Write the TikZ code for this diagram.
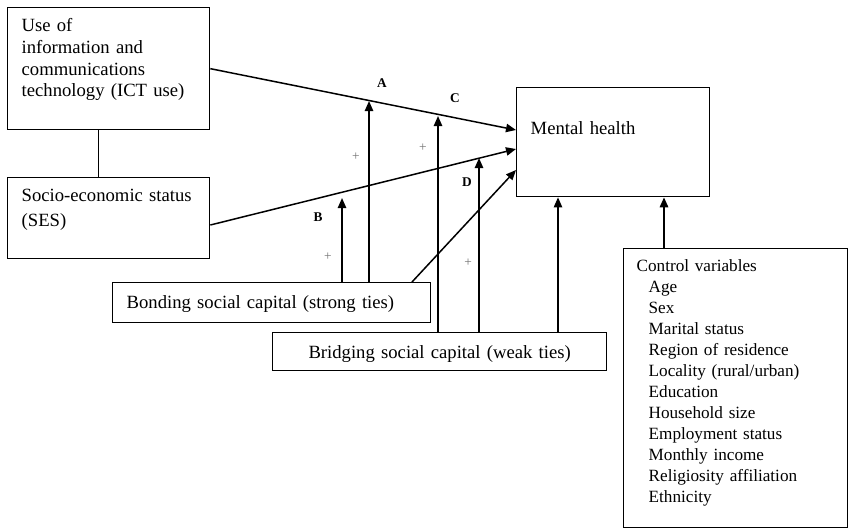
\documentclass[tikz,border=0pt]{standalone}
\usepackage{fontspec}
\setmainfont{Liberation Serif}
\usetikzlibrary{arrows.meta, positioning}

\begin{document}
\begin{tikzpicture}[x=0.6pt, y=-0.6pt, >={Triangle[length=6pt,width=5pt]},
    box/.style={draw, line width=0.8pt, anchor=north west, align=left, inner ysep=0pt, inner xsep=8.4pt, font=\fontsize{11.2}{13}\selectfont},
    link/.style={line width=0.9pt},
    tag/.style={font=\fontsize{8}{8}\selectfont\bfseries},
    plus/.style={text=black!55, font=\fontsize{8}{8}\selectfont}]
        \useasboundingbox (0,0) rectangle (848,529);

        \node[box, text width=104.4pt, text height=14.4pt, text depth=58.8pt] (ict) at (7,7)
        {Use of\\information and\\communications\\technology (ICT use)};
        \node[box, text width=104.4pt, text height=14.4pt, text depth=34.2pt] (ses) at (7,177)
        {Socio-economic status\\[2pt](SES)};
        \node[box, text width=99pt, text height=28.2pt, text depth=37.2pt] (mh) at (516,87) {Mental health};

        \node[box, text width=174pt, text height=15.6pt, text depth=8.4pt] (bond) at (112,282)
        {Bonding social capital (strong ties)};
        \node[box, align=center, text width=183.6pt, text height=15.6pt, text depth=7.2pt] (bridge) at (272,332)
        {Bridging social capital (weak ties)};

        \node[box, inner xsep=7.8pt, text width=118.8pt, text height=13.8pt, text depth=153.6pt,
              font=\fontsize{10.3}{12.6}\selectfont] (ctrl) at (623,248)
        {Control variables\\
         \hspace*{7.2pt}Age\\
         \hspace*{7.2pt}Sex\\
         \hspace*{7.2pt}Marital status\\
         \hspace*{7.2pt}Region of residence\\
         \hspace*{7.2pt}Locality (rural/urban)\\
         \hspace*{7.2pt}Education\\
         \hspace*{7.2pt}Household size\\
         \hspace*{7.2pt}Employment status\\
         \hspace*{7.2pt}Monthly income\\
         \hspace*{7.2pt}Religiosity affiliation\\
         \hspace*{7.2pt}Ethnicity};

        % tips of the moderating arrows
        \coordinate (tipA) at (369,101);
        \coordinate (tipB) at (342,198);
        \coordinate (tipC) at (438,116);
        \coordinate (tipD) at (479,158);

        \draw[link] ([xshift=-6pt]ict.south) -- ([xshift=-6pt]ses.north);

        \draw[link, ->] (ict.east) -- (mh.west |- 0,130);
        \draw[link, ->] (ses.east |- 0,225) -- (mh.west |- 0,149);
        \draw[link, ->] (bond.north -| 412,0) -- (mh.west |- 0,170);

        \draw[link, ->] (bond.north -| tipB) -- (tipB);
        \draw[link, ->] (bond.north -| tipA) -- (tipA);
        \draw[link, ->] (bridge.north -| tipC) -- (tipC);
        \draw[link, ->] (bridge.north -| tipD) -- (tipD);
        \draw[link, ->] (bridge.north -| 558,0) -- (mh.south -| 558,0);
        \draw[line width=1.2pt, ->] (ctrl.north -| 664,0) -- (mh.south -| 664,0);

        \node[tag] (lA) at (382,83) {A};
        \node[tag] (lB) at (318,217) {B};
        \node[tag] (lC) at (455,98) {C};
        \node[tag] (lD) at (467,182) {D};

        \node[plus] (p1) at (356,157) {+};
        \node[plus] (p2) at (423,148) {+};
        \node[plus] (p3) at (328,257) {+};
        \node[plus] (p4) at (468,263) {+};

    \end{tikzpicture}
\end{document}
